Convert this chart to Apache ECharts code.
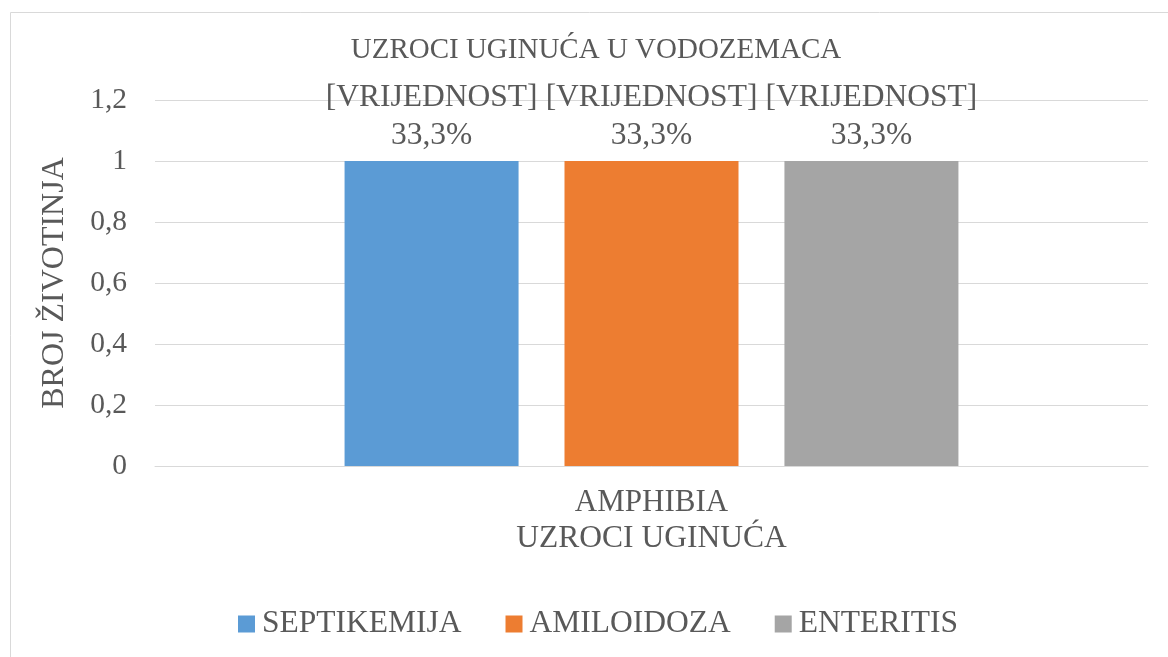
<!DOCTYPE html>
<html>
<head>
<meta charset="utf-8">
<script src="https://cdn.jsdelivr.net/npm/echarts@6/dist/echarts.min.js"></script>
<style>
html,body{margin:0;padding:0;background:#fff;}
#chart{width:1168px;height:657px;}
</style>
</head>
<body>
<div id="chart"></div>
<script>
const titleText = 'UZROCI UGINUĆA U VODOZEMACA';
const categories = ['AMPHIBIA'];
const seriesNames = ['SEPTIKEMIJA', 'AMILOIDOZA', 'ENTERITIS'];
const septikemija = [1];
const amiloidoza = [1];
const enteritis = [1];
const seriesColors = ['#5b9bd5', '#ed7d31', '#a5a5a5'];
const yAxisName = 'BROJ ŽIVOTINJA';
const xAxisName = 'UZROCI UGINUĆA';
const labelPrefix = '[VRIJEDNOST]';

const allValues = [septikemija, amiloidoza, enteritis];
const total = allValues.reduce((s, arr) => s + arr[0], 0);
const font = '"Liberation Serif", "Times New Roman", serif';
const textColor = '#595959';

const chart = echarts.init(document.getElementById('chart'));
const series = allValues.map((vals, i) => ({
  name: seriesNames[i],
  type: 'bar',
  data: vals,
  barWidth: 174,
  barGap: '26.4%',
  itemStyle: { color: seriesColors[i] },
  label: {
    show: true,
    position: 'top',
    distance: 6,
    fontFamily: font,
    fontSize: 31.5,
    lineHeight: 38,
    color: textColor,
    formatter: p => labelPrefix + '\n' + (p.value / total * 100).toFixed(1).replace('.', ',') + '%'
  }
}));

chart.setOption({
  animation: false,
  textStyle: { fontFamily: font },
  graphic: [{
    type: 'rect',
    shape: { x: 10.5, y: 12.5, width: 1200, height: 700 },
    style: { fill: 'none', stroke: '#d9d9d9', lineWidth: 1 },
    silent: true,
    z: -1
  }],
  title: {
    text: titleText,
    left: 591,
    textAlign: 'center',
    top: 31,
    textStyle: { fontFamily: font, fontSize: 29, fontWeight: 'normal', color: textColor }
  },
  legend: {
    data: seriesNames,
    left: 238,
    top: 608,
    padding: 0,
    itemWidth: 17,
    itemHeight: 17,
    itemGap: 44,
    icon: 'rect',
    textStyle: { fontFamily: font, fontSize: 31.5, color: textColor, padding: [0, 0, 0, 2] }
  },
  grid: { left: 155, right: 20, top: 100, bottom: 191 },
  xAxis: {
    type: 'category',
    data: categories,
    name: xAxisName,
    nameLocation: 'middle',
    nameGap: 50,
    nameTextStyle: { fontFamily: font, fontSize: 31.5, color: textColor },
    axisLine: { lineStyle: { color: '#d9d9d9' } },
    axisTick: { show: false },
    axisLabel: { fontFamily: font, fontSize: 31, color: textColor, margin: 21 }
  },
  yAxis: {
    type: 'value',
    min: 0,
    max: 1.2,
    interval: 0.2,
    name: yAxisName,
    nameLocation: 'middle',
    nameGap: 84,
    nameTextStyle: { fontFamily: font, fontSize: 32, color: textColor },
    axisLine: { show: false },
    axisTick: { show: false },
    splitLine: { lineStyle: { color: '#d9d9d9' } },
    axisLabel: {
      fontFamily: font, fontSize: 29.5, color: textColor, margin: 28,
      formatter: v => String(Math.round(v * 10) / 10).replace('.', ',')
    }
  },
  series: series
});
</script>
</body>
</html>
